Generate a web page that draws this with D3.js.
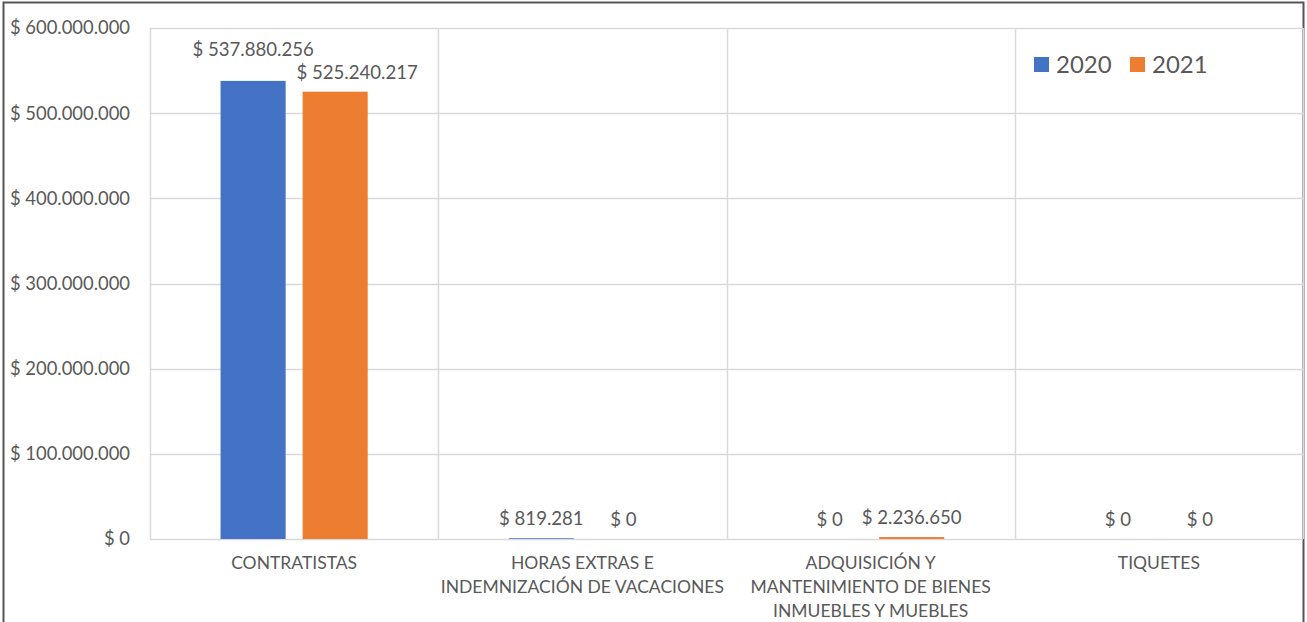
<!DOCTYPE html>
<html>
<head>
<meta charset="utf-8">
<script src="https://cdn.jsdelivr.net/npm/d3@7"></script>
<style>
  body { margin: 0; background: #fff; }
  svg text { font-family: Lato, "Open Sans", sans-serif; fill: #595959; }
</style>
</head>
<body>
<svg width="1307" height="622"></svg>
<script>
// categories and series
const categories = [
    ['CONTRATISTAS'],
    ['HORAS EXTRAS E', 'INDEMNIZACIÓN DE VACACIONES'],
    ['ADQUISICIÓN Y', 'MANTENIMIENTO DE BIENES', 'INMUEBLES Y MUEBLES'],
    ['TIQUETES']
];
const years = ['2020', '2021'];
const values2020 = [537880256, 819281, 0, 0];
const values2021 = [525240217, 0, 2236650, 0];
const yTicks = [0, 100000000, 200000000, 300000000, 400000000, 500000000, 600000000];

const colors = { '2020': '#4472c4', '2021': '#ed7d31' };

const svg = d3.select('svg');
const margin = { top: 28, right: 4, bottom: 83, left: 150 };
const width = 1307 - margin.left - margin.right;
const height = 622 - margin.top - margin.bottom;

// outer frame of the picture
svg.append('path')
    .attr('d', 'M3.5,622 V2.5 H1303.5 V622')
    .style('fill', 'none')
    .style('stroke', '#555')
    .style('stroke-width', 2);

const g = svg.append('g')
    .attr('transform', `translate(${margin.left},${margin.top})`);

const keys = categories.map((c, i) => i);

const x0 = d3.scaleBand()
    .domain(keys)
    .range([0, width])
    .padding(0);

const x1 = d3.scaleBand()
    .domain(years)
    .range([0, x0.bandwidth()])
    .paddingInner(0.207)
    .paddingOuter(0.86);

const y = d3.scaleLinear()
    .domain([0, 600000000])
    .range([height, 0]);

const fmt = v => '$ ' + d3.format(',')(v).replace(/,/g, '.');

// horizontal gridlines
g.append('g')
    .selectAll('line')
    .data(yTicks)
    .join('line')
    .attr('x1', 0)
    .attr('x2', width)
    .attr('y1', d => Math.round(y(d)) + 0.5)
    .attr('y2', d => Math.round(y(d)) + 0.5)
    .style('stroke', '#d9d9d9')
    .style('stroke-width', 1.5);

// vertical gridlines at category boundaries
g.append('g')
    .selectAll('line')
    .data(keys.concat([keys.length]))
    .join('line')
    .attr('x1', d => Math.round(d * x0.step()) + 0.5)
    .attr('x2', d => Math.round(d * x0.step()) + 0.5)
    .attr('y1', 0)
    .attr('y2', height)
    .style('stroke', '#d9d9d9')
    .style('stroke-width', 1.5);

// y axis labels
g.append('g')
    .selectAll('text')
    .data(yTicks)
    .join('text')
    .attr('x', -20)
    .attr('y', d => y(d))
    .attr('dy', '0.35em')
    .attr('text-anchor', 'end')
    .style('font-size', '18.4px')
    .text(fmt);

// bars
const rows = keys.map(i => ({ i, vals: [values2020[i], values2021[i]] }));

const groups = g.append('g')
    .selectAll('g')
    .data(rows)
    .join('g')
    .attr('transform', d => `translate(${x0(d.i)},0)`);

groups.selectAll('rect')
    .data(d => years.map((yr, k) => ({ yr, v: d.vals[k], i: d.i })))
    .join('rect')
    .attr('x', d => x1(d.yr))
    .attr('y', d => y(d.v))
    .attr('width', x1.bandwidth())
    .attr('height', d => y(0) - y(d.v))
    .style('fill', d => colors[d.yr]);

// value labels (first group nudged as in the original to avoid overlap)
const nudge = { '0-2020': [0, -12], '0-2021': [22, 0] };
groups.selectAll('text')
    .data(d => years.map((yr, k) => ({ yr, v: d.vals[k], i: d.i })))
    .join('text')
    .attr('x', d => x1(d.yr) + x1.bandwidth() / 2 + (nudge[d.i + '-' + d.yr] || [0, 0])[0])
    .attr('y', d => y(d.v) - 13 + (nudge[d.i + '-' + d.yr] || [0, 0])[1])
    .attr('text-anchor', 'middle')
    .style('font-size', '18.6px')
    .text(d => fmt(d.v));

// category labels
g.append('g')
    .selectAll('text')
    .data(categories)
    .join('text')
    .attr('x', (d, i) => x0(i) + x0.bandwidth() / 2)
    .attr('y', height + 30)
    .attr('text-anchor', 'middle')
    .style('font-size', '17.5px')
    .selectAll('tspan')
    .data(d => d)
    .join('tspan')
    .attr('x', function () { return d3.select(this.parentNode).attr('x'); })
    .attr('dy', (d, k) => k === 0 ? 0 : 24)
    .text(d => d);

// legend
const legend = svg.append('g')
    .attr('transform', 'translate(1034,57)');

const li = legend.selectAll('g')
    .data(years)
    .join('g')
    .attr('transform', (d, k) => `translate(${k * 96},0)`);

li.append('rect')
    .attr('width', 15)
    .attr('height', 15)
    .style('fill', d => colors[d]);

li.append('text')
    .attr('x', 22)
    .attr('y', 7.5)
    .attr('dy', '0.35em')
    .style('font-size', '24px')
    .text(d => d);
</script>
</body>
</html>
